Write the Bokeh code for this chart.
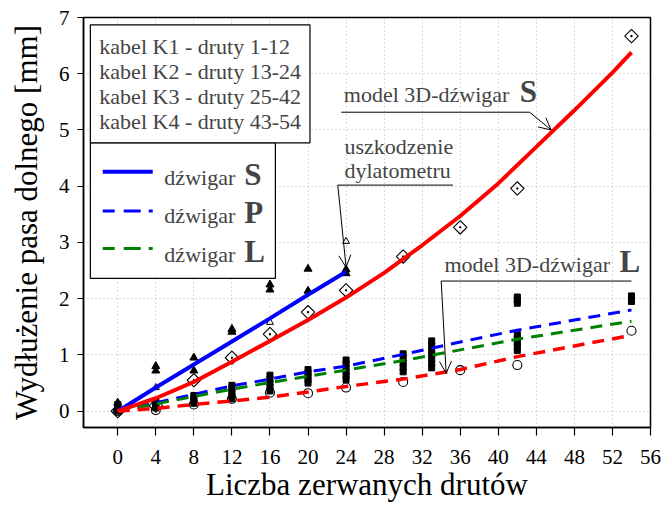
from bokeh.plotting import figure
from bokeh.models import Label, FixedTicker, Arrow, OpenHead, BoxAnnotation
from bokeh.embed import file_html
from bokeh.resources import INLINE
import math

FONT = "Liberation Serif"

# ---- axes ----
x_ticks = list(range(0, 57, 4))
y_ticks = list(range(0, 8))

# ---- fitted lines (experiment) ----
x_S = [0, 4, 8, 12, 16, 20, 24]
fit_S = [0, 0.42, 0.83, 1.24, 1.65, 2.07, 2.48]
x_fit = [0, 4, 8, 12, 16, 20, 24, 30, 36, 42, 48, 54]
fit_P = [0, 0.15, 0.30, 0.45, 0.57, 0.70, 0.80, 1.01, 1.23, 1.44, 1.62, 1.80]
fit_L = [0, 0.13, 0.26, 0.39, 0.51, 0.62, 0.73, 0.90, 1.09, 1.28, 1.44, 1.60]

# ---- 3D models ----
x_model_S = [0, 4, 8, 12, 16, 20, 24, 28, 32, 36, 40, 44, 48, 52, 54]
model_S = [0, 0.23, 0.52, 0.88, 1.25, 1.62, 2.02, 2.46, 2.95, 3.47, 4.05, 4.70, 5.35, 6.02, 6.38]
model_L = [0, 0.05, 0.12, 0.18, 0.25, 0.34, 0.44, 0.57, 0.74, 0.97, 1.16, 1.35]

# ---- model points ----
x_diam = [0, 4, 8, 12, 16, 20, 24, 30, 36, 42, 54]
y_diam = [0, 0.10, 0.55, 0.95, 1.37, 1.76, 2.15, 2.75, 3.27, 3.96, 6.67]
x_circ = [0, 4, 8, 12, 16, 20, 24, 30, 36, 42, 54]
y_circ = [0, 0.02, 0.12, 0.22, 0.33, 0.32, 0.42, 0.52, 0.73, 0.82, 1.43]

# ---- measurements, girder S ----
x_tri = [0, 0, 4, 4, 8, 8, 12, 12, 16, 16, 20, 20, 24, 24]
y_tri = [0.08, 0.15, 0.80, 0.72, 0.95, 0.72, 1.46, 1.41, 2.25, 2.16, 2.53, 2.14, 2.52, 2.45]
x_tri_open = [4, 16, 24]
y_tri_open = [0.42, 1.58, 3.02]

# ---- measurements, girders P and L ----
x_sq = [0, 0, 0, 0,
        4, 4, 4, 4,
        8, 8, 8, 8,
        12, 12, 12, 12, 12,
        16, 16, 16, 16, 16,
        20, 20, 20, 20, 20,
        24, 24, 24, 24, 24, 24,
        30, 30, 30, 30, 30,
        33, 33, 33, 33, 33, 33, 33,
        42, 42, 42, 42, 42, 42, 42, 42,
        54, 54, 54]
y_sq = [0.0, 0.04, 0.08, 0.12,
        0.06, 0.10, 0.14, 0.18,
        0.14, 0.18, 0.23, 0.28,
        0.22, 0.28, 0.34, 0.40, 0.46,
        0.36, 0.43, 0.50, 0.57, 0.64,
        0.50, 0.56, 0.62, 0.68, 0.74,
        0.56, 0.63, 0.70, 0.77, 0.84, 0.91,
        0.70, 0.78, 0.86, 0.94, 1.02,
        0.77, 0.85, 0.93, 1.01, 1.09, 1.17, 1.25,
        1.08, 1.15, 1.22, 1.29, 1.36, 1.92, 1.98, 2.03,
        1.95, 2.00, 2.05]

cable_lines = ["kabel K1 - druty 1-12", "kabel K2 - druty 13-24",
               "kabel K3 - druty 25-42", "kabel K4 - druty 43-54"]
girder_label = "dźwigar"
girder_letters = ["S", "P", "L"]
girder_colors = ["blue", "blue", "green"]
girder_dashes = ["solid", "12 9 17 8 4", "12 9 17 8 4"]

p = figure(width=662, height=507, x_range=(-3.6, 56), y_range=(-0.29, 7.0),
           output_backend="svg", toolbar_location=None,
           min_border_left=83, min_border_right=12, min_border_top=17, min_border_bottom=80)
p.background_fill_color = "white"
p.border_fill_color = "white"
p.outline_line_color = "black"
p.outline_line_width = 1.5

# axes
for ax in (p.xaxis[0], p.yaxis[0]):
    ax.major_label_text_font = FONT
    ax.major_label_text_font_size = "21px"
    ax.major_label_text_color = "black"
    ax.axis_label_text_font = FONT
    ax.axis_label_text_font_size = "31px"
    ax.axis_label_text_font_style = "normal"
    ax.axis_label_text_color = "black"
    ax.axis_line_color = "black"
    ax.axis_line_width = 1.5
    ax.major_tick_line_color = "black"
    ax.major_tick_line_width = 1.2
    ax.major_tick_in = 0
    ax.minor_tick_line_color = None
p.xaxis.ticker = FixedTicker(ticks=x_ticks)
p.yaxis.ticker = FixedTicker(ticks=y_ticks)
p.xaxis.major_tick_out = 8
p.xaxis.major_label_standoff = 14
p.yaxis.major_tick_out = 6
p.yaxis.major_label_standoff = 8
p.xaxis.axis_label = "Liczba zerwanych drutów"
p.yaxis.axis_label = "Wydłużenie pasa dolnego [mm]"
p.xaxis.axis_label_standoff = 0
p.yaxis.axis_label_standoff = 12

p.xgrid.ticker = FixedTicker(ticks=x_ticks)
p.ygrid.ticker = FixedTicker(ticks=y_ticks)
for g in (p.xgrid[0], p.ygrid[0]):
    g.grid_line_color = "#b5b5b5"
    g.grid_line_dash = "1 3"
    g.grid_line_width = 1

# markers
p.scatter(x_sq, y_sq, marker="square", size=6, color="black")
p.scatter(x_tri, y_tri, marker="triangle", size=8, color="black")
p.scatter(x_tri_open, y_tri_open, marker="triangle", size=7, fill_color=None, line_color="black")
p.scatter(x_diam, y_diam, marker="square_dot", size=9.5, angle=math.pi / 4,
          fill_color=None, line_color="black", line_width=1.1)
p.scatter(x_circ, y_circ, marker="circle", size=9, fill_color=None, line_color="black", line_width=1.1)

# lines
p.line(x_S, fit_S, color="blue", line_width=4)
p.line(x_fit, fit_P, color="blue", line_width=3, line_dash="12 8")
p.line(x_fit, fit_L, color="green", line_width=3, line_dash="12 8")
p.line(x_fit, model_L, color="red", line_width=3.5, line_dash="12 8")
p.line(x_model_S, model_S, color="red", line_width=4)

# ---- legend of girders (drawn as annotations) ----
p.add_layout(BoxAnnotation(left=-2.88, right=16.57, top=4.774, bottom=2.362,
                           fill_color="white", fill_alpha=1, line_color="black",
                           line_width=1.2, line_alpha=1))
sample_y = [4.257, 3.561, 2.891]
text_y = [3.935, 3.253, 2.569]
for i in range(3):
    p.add_layout(Arrow(x_start=-1.58, y_start=sample_y[i], x_end=3.68, y_end=sample_y[i],
                       end=None, line_color=girder_colors[i],
                       line_width=4 if i == 0 else 3, line_dash=girder_dashes[i]))
    p.add_layout(Label(x=4.90, y=text_y[i], text=girder_label, text_font=FONT,
                       text_font_size="22px", text_baseline="bottom"))
    p.add_layout(Label(x=4.90, y=text_y[i], x_offset=80, y_offset=-2, text=girder_letters[i],
                       text_font=FONT, text_font_size="31px", text_font_style="bold",
                       text_baseline="bottom"))

# cable box
p.add_layout(Label(x=-2.88, y=6.87, text="\n".join(cable_lines), anchor="top_left",
                   text_font=FONT, text_font_size="22px", text_line_height=1.0,
                   padding=9, border_line_color="black", border_line_width=1.2,
                   background_fill_color="white", text_align="left", text_baseline="top"))

# annotations
def note(x, y, text, bold_letter=None, offset=0):
    p.add_layout(Label(x=x, y=y, text=text, text_font=FONT, text_font_size="22px",
                       text_baseline="bottom"))
    if bold_letter:
        p.add_layout(Label(x=x, y=y, x_offset=offset, y_offset=-2, text=bold_letter,
                           text_font=FONT, text_font_size="31px", text_font_style="bold",
                           text_baseline="bottom"))

note(23.76, 5.40, "model 3D-dźwigar", "S", 176)
note(23.83, 4.49, "uszkodzenie")
note(23.83, 4.055, "dylatometru")
note(34.34, 2.39, "model 3D-dźwigar", "L", 175)

def leader(x0, y0, x1, y1, head=False):
    p.add_layout(Arrow(x_start=x0, y_start=y0, x_end=x1, y_end=y1, line_width=1,
                       line_color="black",
                       end=OpenHead(size=12, line_width=1, line_color="black") if head else None))

leader(23.5, 5.316, 43.3, 5.316)
leader(43.3, 5.316, 45.56, 5.0, True)
leader(23.13, 4.02, 35.23, 4.02)
leader(23.13, 4.02, 24.0, 2.56, True)
leader(34.0, 2.314, 54.0, 2.314)
leader(34.0, 2.314, 34.52, 0.674, True)

open("out.html", "w").write(file_html(p, INLINE))
